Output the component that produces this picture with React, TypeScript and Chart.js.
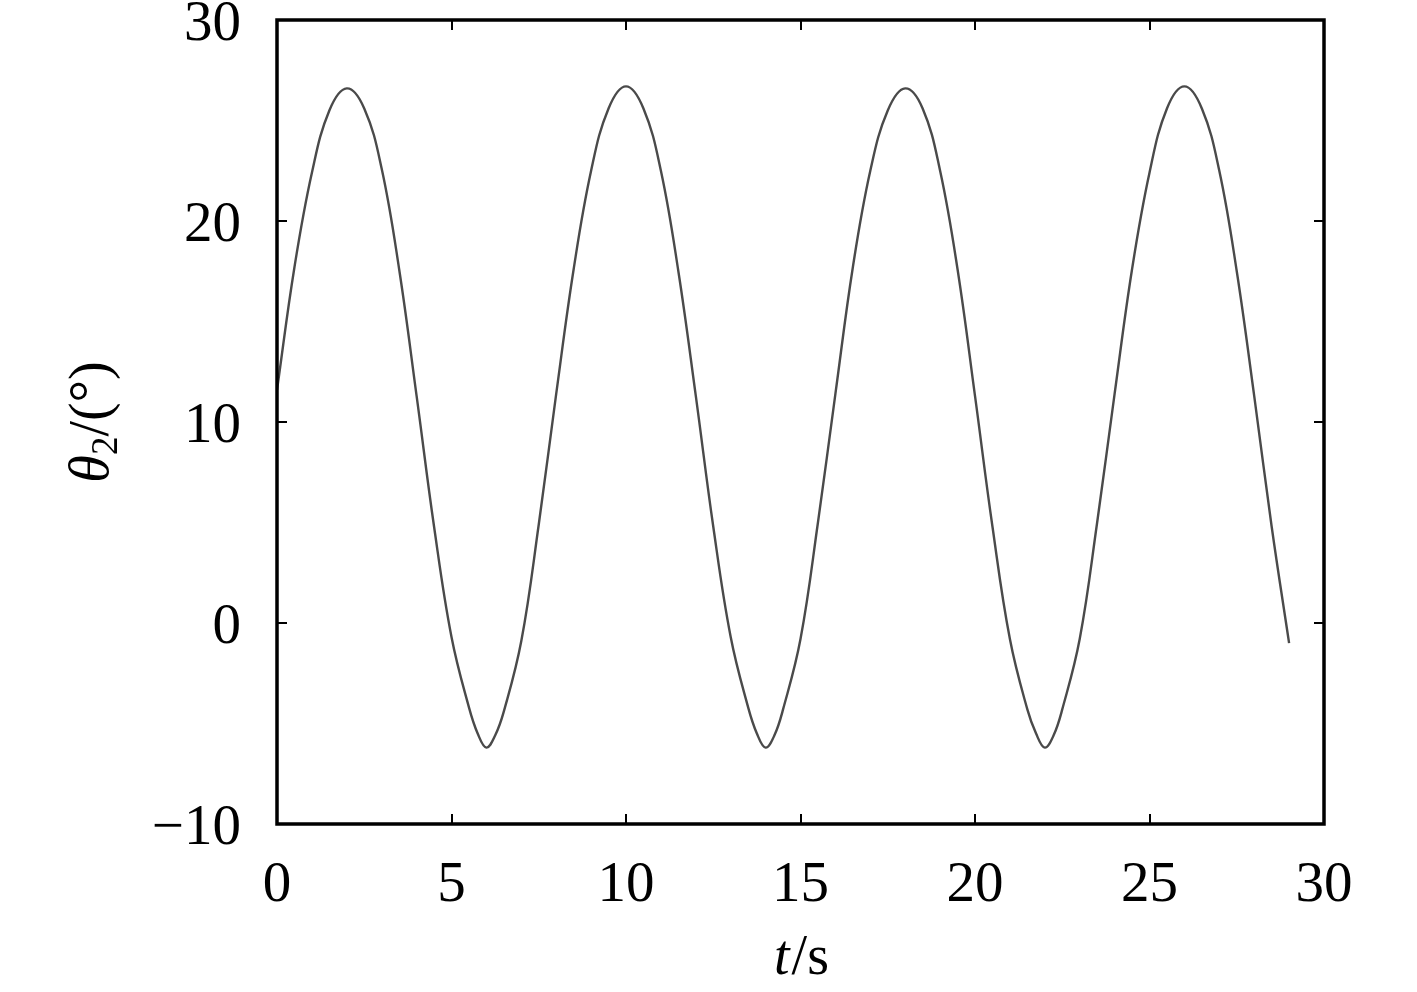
import React, { useEffect, useRef } from "react";
import { Chart, registerables } from "chart.js";

Chart.register(...registerables);

const timeSeconds: number[] = [
  0, 0.5, 1, 1.5, 2, 2.5, 3, 3.5, 4, 4.5, 5, 5.5, 5.75, 6, 6.25, 6.5, 7, 7.5,
  8, 8.5, 9, 9.5, 10, 10.5, 11, 11.5, 12, 12.5, 13, 13.5, 13.75, 14, 14.25, 14.5, 15, 15.5,
  16, 16.5, 17, 17.5, 18, 18.5, 19, 19.5, 20, 20.5, 21, 21.5, 21.75, 22, 22.25, 22.5, 23, 23.5,
  24, 24.5, 25, 25.5, 26, 26.5, 27, 27.5, 28, 28.5, 29,
];

const theta2Deg: number[] = [
  11.6, 17.7, 22.4, 25.5, 26.6, 25.6, 22.6, 17.6, 11.3, 4.8, -0.7, -4.2, -5.5, -6.2, -5.6, -4.4, -0.9, 4.9,
  11.4, 17.6, 22.5, 25.6, 26.7, 25.6, 22.5, 17.5, 11.3, 4.8, -0.7, -4.2, -5.5, -6.2, -5.6, -4.3, -0.8, 5.0,
  11.4, 17.7, 22.5, 25.5, 26.6, 25.6, 22.5, 17.6, 11.3, 4.8, -0.8, -4.3, -5.5, -6.2, -5.6, -4.3, -0.8, 5.0,
  11.4, 17.6, 22.4, 25.6, 26.7, 25.6, 22.5, 17.5, 11.3, 4.8, -1.0,
];

const xTickValues: number[] = [0, 5, 10, 15, 20, 25, 30];
const yTickValues: number[] = [-10, 0, 10, 20, 30];

const FONT = '"Liberation Serif", "Times New Roman", serif';

const framePlugin = {
  id: "framePlugin",
  afterDraw(chart: any) {
    const { ctx, chartArea } = chart;
    const { left, right, top, bottom } = chartArea;
    const xs = chart.scales.x;
    const ys = chart.scales.y;
    ctx.save();
    ctx.strokeStyle = "#000";
    ctx.lineWidth = 2;
    const tl = 10;
    xTickValues.forEach((v) => {
      const px = Math.round(xs.getPixelForValue(v));
      ctx.beginPath();
      ctx.moveTo(px, bottom);
      ctx.lineTo(px, bottom - tl);
      ctx.moveTo(px, top);
      ctx.lineTo(px, top + tl);
      ctx.stroke();
    });
    yTickValues.forEach((v) => {
      const py = Math.round(ys.getPixelForValue(v));
      ctx.beginPath();
      ctx.moveTo(left, py);
      ctx.lineTo(left + tl, py);
      ctx.moveTo(right, py);
      ctx.lineTo(right - tl, py);
      ctx.stroke();
    });
    ctx.lineWidth = 3.5;
    ctx.strokeRect(left, top, right - left, bottom - top);

    ctx.fillStyle = "#000";
    ctx.textBaseline = "alphabetic";
    ctx.textAlign = "left";
    const fItal = `italic 56px ${FONT}`;
    const fNorm = `56px ${FONT}`;
    ctx.font = fItal;
    const wT = ctx.measureText("t").width;
    ctx.font = fNorm;
    const wS = ctx.measureText("/s").width;
    const cx = (left + right) / 2;
    const x0 = cx - (wT + wS) / 2;
    const by = 974;
    ctx.font = fItal;
    ctx.fillText("t", x0, by);
    ctx.font = fNorm;
    ctx.fillText("/s", x0 + wT + 2, by);

    const fSub = `37px ${FONT}`;
    ctx.font = fItal;
    const wTh = ctx.measureText("θ").width;
    ctx.font = fSub;
    const w2 = ctx.measureText("2").width;
    ctx.font = fNorm;
    const wR = ctx.measureText("/(°)").width;
    const total = wTh + w2 + wR;
    ctx.translate(108, (top + bottom) / 2);
    ctx.rotate(-Math.PI / 2);
    let sx = -total / 2;
    ctx.font = fItal;
    ctx.fillText("θ", sx, 0);
    sx += wTh;
    ctx.font = fSub;
    ctx.fillText("2", sx, 9);
    sx += w2;
    ctx.font = fNorm;
    ctx.fillText("/(°)", sx, 0);
    ctx.restore();
  },
};

export default function App() {
  const canvasRef = useRef<HTMLCanvasElement | null>(null);

  useEffect(() => {
    document.body.style.margin = "0";
    const canvas = canvasRef.current;
    if (!canvas) return;
    const points = timeSeconds.map((t, i) => ({ x: t, y: theta2Deg[i] }));
    const chart = new Chart(canvas, {
      type: "line",
      data: {
        datasets: [
          {
            data: points,
            borderColor: "#4a4a4a",
            borderWidth: 2.4,
            pointRadius: 0,
            fill: false,
            tension: 0.4,
          },
        ],
      },
      options: {
        responsive: false,
        animation: false,
        devicePixelRatio: 1,
        layout: { padding: { top: 20, right: 93, bottom: 0, left: 0 } },
        plugins: { legend: { display: false }, tooltip: { enabled: false } },
        scales: {
          x: {
            type: "linear",
            min: 0,
            max: 30,
            grid: { display: false, drawTicks: false },
            border: { display: false },
            afterBuildTicks: (scale: any) => {
              scale.ticks = xTickValues.map((v) => ({ value: v }));
            },
            ticks: {
              color: "#000",
              font: { family: FONT, size: 57 },
              padding: 28,
              maxRotation: 0,
              autoSkip: false,
            },
            afterFit: (scale: any) => {
              scale.height = 168;
              scale.paddingLeft = 0;
              scale.paddingRight = 0;
            },
          },
          y: {
            type: "linear",
            min: -10,
            max: 30,
            grid: { display: false, drawTicks: false },
            border: { display: false },
            afterBuildTicks: (scale: any) => {
              scale.ticks = yTickValues.map((v) => ({ value: v }));
            },
            ticks: {
              color: "#000",
              font: { family: FONT, size: 57 },
              padding: 36,
              labelOffset: 5,
              autoSkip: false,
              callback: (v: any) => (Number(v) < 0 ? "\u2212" + Math.abs(Number(v)) : String(v)),
            },
            afterFit: (scale: any) => {
              scale.width = 277;
              scale.paddingTop = 0;
              scale.paddingBottom = 0;
            },
          },
        },
      },
      plugins: [framePlugin],
    });
    return () => chart.destroy();
  }, []);

  return (
    <div style={{ position: "absolute", left: 0, top: 0, width: 1417, height: 992, background: "#fff" }}>
      <canvas ref={canvasRef} width={1417} height={992} style={{ display: "block" }} />
    </div>
  );
}
